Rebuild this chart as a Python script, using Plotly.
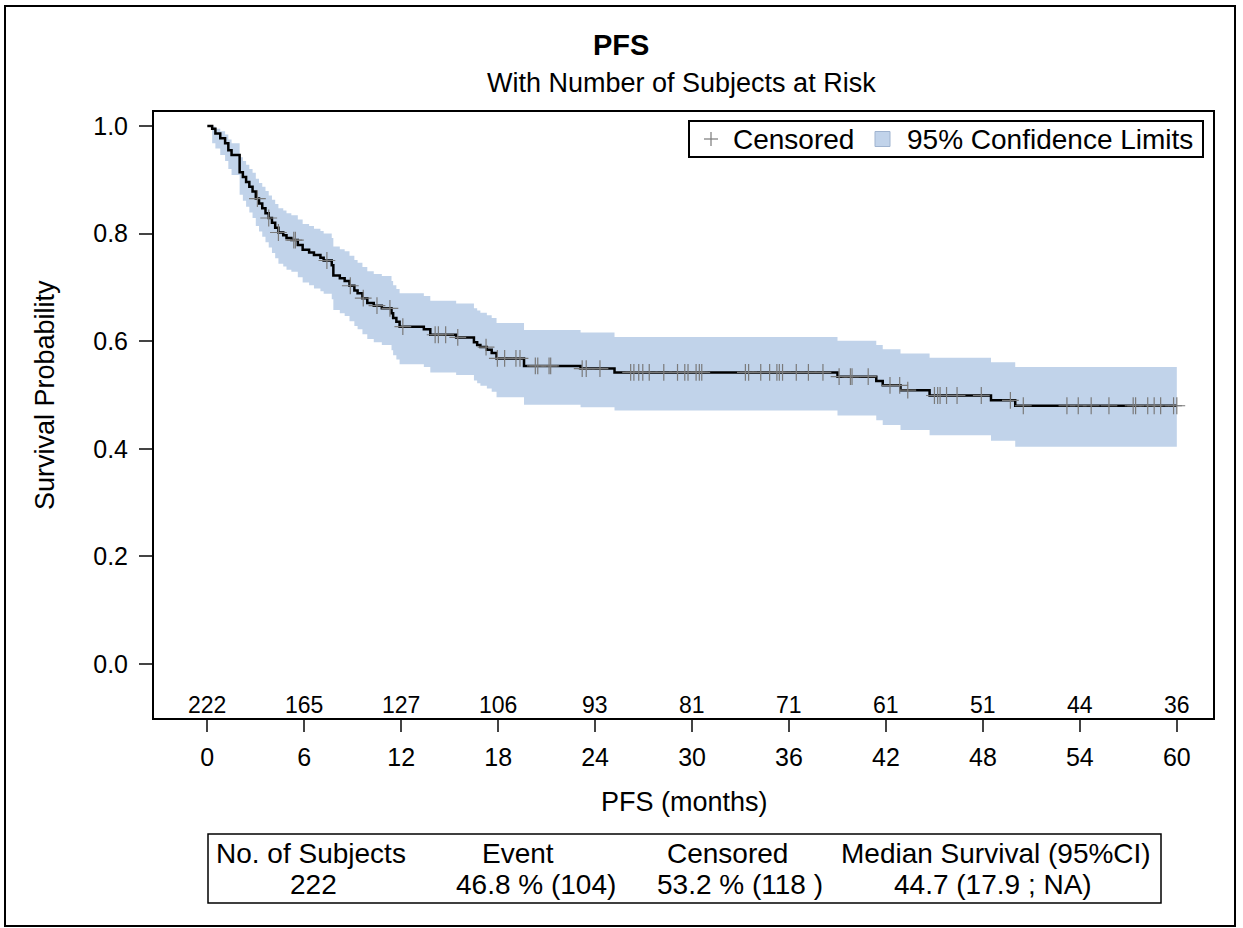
import numpy as np
import plotly.graph_objects as go

FONT = "Liberation Sans, Arial, sans-serif"

# Kaplan-Meier estimate: time of each drop (months) and survival after it
km_time = [0.0, 0.3, 0.5, 0.8, 1.1, 1.3, 1.5, 2.0, 2.2, 2.4, 2.6, 2.8, 3.0, 3.2, 3.4,
           3.6, 3.8, 4.0, 4.2, 4.4, 4.7, 4.9, 5.2, 5.6, 5.9, 6.3, 6.6, 7.0, 7.2, 7.7,
           7.8, 8.2, 8.5, 8.8, 9.1, 9.3, 9.6, 9.9, 10.3, 10.8, 11.4, 11.5, 11.7, 11.9,
           13.4, 13.8, 15.4, 16.5, 16.7, 16.9, 17.3, 17.6, 17.9, 19.6, 23.1, 25.2,
           39.0, 41.4, 41.8, 42.9, 44.7, 48.5, 50.0, 60.0]
km_surv = [1.000, 0.995, 0.986, 0.977, 0.968, 0.955, 0.946, 0.914, 0.905, 0.896, 0.887,
           0.878, 0.865, 0.856, 0.847, 0.838, 0.829, 0.820, 0.811, 0.802, 0.797, 0.792,
           0.788, 0.779, 0.770, 0.765, 0.760, 0.755, 0.750, 0.741, 0.722, 0.717, 0.712,
           0.703, 0.694, 0.689, 0.680, 0.671, 0.666, 0.661, 0.652, 0.643, 0.636, 0.627,
           0.622, 0.612, 0.607, 0.598, 0.593, 0.589, 0.584, 0.578, 0.568, 0.554, 0.549,
           0.542, 0.534, 0.526, 0.518, 0.509, 0.499, 0.490, 0.480, 0.480]
# 95% confidence limits at the same times
ci_lower = [1.000, 0.968, 0.958, 0.946, 0.935, 0.920, 0.909, 0.872, 0.861, 0.850, 0.839,
            0.829, 0.814, 0.804, 0.794, 0.784, 0.774, 0.764, 0.754, 0.744, 0.739, 0.733,
            0.729, 0.719, 0.709, 0.704, 0.698, 0.693, 0.688, 0.678, 0.658, 0.652, 0.647,
            0.637, 0.628, 0.622, 0.613, 0.604, 0.598, 0.593, 0.583, 0.574, 0.566, 0.557,
            0.552, 0.542, 0.537, 0.527, 0.522, 0.517, 0.512, 0.506, 0.496, 0.482, 0.477,
            0.471, 0.462, 0.453, 0.444, 0.435, 0.425, 0.415, 0.404, 0.404]
ci_upper = [1.000, 0.999, 0.995, 0.990, 0.984, 0.975, 0.968, 0.942, 0.935, 0.928, 0.920,
            0.913, 0.902, 0.894, 0.887, 0.879, 0.871, 0.863, 0.855, 0.847, 0.843, 0.838,
            0.834, 0.826, 0.818, 0.814, 0.809, 0.805, 0.800, 0.792, 0.776, 0.771, 0.767,
            0.759, 0.751, 0.746, 0.738, 0.730, 0.725, 0.721, 0.712, 0.704, 0.697, 0.689,
            0.684, 0.675, 0.670, 0.661, 0.657, 0.653, 0.648, 0.643, 0.634, 0.621, 0.616,
            0.608, 0.601, 0.593, 0.585, 0.577, 0.569, 0.561, 0.552, 0.552]

# Censoring times (months)
censor_time = [3.1, 3.8, 4.4, 5.35, 5.45, 7.4, 8.85, 9.65, 10.5, 11.3, 12.1, 14.1, 14.3,
               14.75, 15.5, 17.25, 17.95, 18.4, 19.1, 19.35, 20.3, 20.45, 21.15, 21.25,
               23.2, 23.45, 24.3, 26.2, 26.4, 26.7, 26.95, 27.35, 28.25, 29.1, 29.55,
               29.75, 30.25, 30.45, 30.6, 33.3, 33.5, 34.25, 34.8, 35.25, 35.4, 35.6,
               36.45, 37.2, 38.1, 39.1, 39.8, 39.9, 40.9, 42.25, 42.85, 43.35, 45.0,
               45.2, 45.35, 45.75, 46.4, 47.9, 49.7, 50.5, 53.2, 53.9, 54.7, 55.8, 57.3,
               57.45, 58.2, 58.6, 59.0, 59.8, 60.0]

# Number of subjects at risk
risk_time = [0, 6, 12, 18, 24, 30, 36, 42, 48, 54, 60]
risk_count = [222, 165, 127, 106, 93, 81, 71, 61, 51, 44, 36]

# Summary table
table_header = ["No. of Subjects", "Event", "Censored", "Median Survival (95%CI)"]
table_values = ["222", "46.8 % (104)", "53.2 % (118 )", "44.7 (17.9 ; NA)"]

BAND = "#C1D3EA"
CENSOR = "#7a7a7a"

# survival level of the step function at each censoring time
idx = np.searchsorted(np.array(km_time), np.array(censor_time), side="right") - 1
censor_surv = np.array(km_surv)[idx]

fig = go.Figure()

fig.add_trace(go.Scatter(x=km_time, y=ci_lower, mode="lines", line=dict(width=0, shape="hv"),
                         hoverinfo="skip", showlegend=False))
fig.add_trace(go.Scatter(x=km_time, y=ci_upper, mode="lines", line=dict(width=0, shape="hv"),
                         fill="tonexty", fillcolor=BAND, hoverinfo="skip", showlegend=False))
fig.add_trace(go.Scatter(x=km_time, y=km_surv, mode="lines",
                         line=dict(color="black", width=2.5, shape="hv"), showlegend=False))
fig.add_trace(go.Scatter(x=censor_time, y=censor_surv, mode="markers", name="Censored",
                         showlegend=False,
                         marker=dict(symbol="cross-thin", size=12, color=CENSOR,
                                     line=dict(width=1.2, color=CENSOR))))

L, R, T, B = 154, 1213, 112, 718
W, H = 1243, 928
pw, ph = R - L, B - T


def px(xp):
    return (xp - L) / pw


def py(yp):
    return (B - yp) / ph


annotations = [
    dict(text="<b>PFS</b>", x=px(621), y=py(45), font=dict(size=29)),
    dict(text="With Number of Subjects at Risk", x=px(681.5), y=py(83), font=dict(size=27)),
    dict(text="Survival Probability", x=px(45), y=py(395), textangle=-90, font=dict(size=27)),
    dict(text="PFS (months)", x=px(684), y=py(802), font=dict(size=27)),
    # legend entries
    dict(text="Censored", x=px(731), y=py(139), xanchor="left", font=dict(size=28)),
    dict(text="95% Confidence Limits", x=px(905), y=py(139), xanchor="left", font=dict(size=28)),
]
for t, n in zip(risk_time, risk_count):
    annotations.append(dict(text=str(n), x=t, xref="x", y=py(705), font=dict(size=23)))

head_x = [311, 518, 727, 996]
val_x = [313, 536, 740, 993]
for hx, h in zip(head_x, table_header):
    annotations.append(dict(text=h, x=px(hx), y=py(853), font=dict(size=28)))
for vx, v in zip(val_x, table_values):
    annotations.append(dict(text=v, x=px(vx), y=py(884), font=dict(size=28)))

for a in annotations:
    a.setdefault("xref", "paper")
    a.setdefault("yref", "paper")
    a.setdefault("xanchor", "center")
    a.update(showarrow=False, yanchor="middle")
    a["font"].update(family=FONT, color="black")

shapes = [
    # outer frame
    dict(type="rect", xref="paper", yref="paper", x0=px(5), x1=px(1235), y0=py(926), y1=py(6),
         line=dict(color="black", width=2)),
    # summary table frame
    dict(type="rect", xref="paper", yref="paper", x0=px(208), x1=px(1161), y0=py(903), y1=py(834),
         line=dict(color="black", width=1.5)),
    # legend frame
    dict(type="rect", xref="paper", yref="paper", x0=px(689), x1=px(1203), y0=py(157), y1=py(121),
         line=dict(color="black", width=2), fillcolor="white", layer="above"),
    # legend: censored symbol
    dict(type="line", xref="paper", yref="paper", x0=px(704), x1=px(718), y0=py(139), y1=py(139),
         line=dict(color=CENSOR, width=1.2)),
    dict(type="line", xref="paper", yref="paper", x0=px(711), x1=px(711), y0=py(132), y1=py(146),
         line=dict(color=CENSOR, width=1.2)),
    # legend: band swatch
    dict(type="rect", xref="paper", yref="paper", x0=px(875), x1=px(890), y0=py(146.5), y1=py(131.5),
         line=dict(color="#9fb3cf", width=1), fillcolor=BAND),
]

fig.update_layout(
    width=W, height=H,
    margin=dict(l=L, r=W - R, t=T, b=H - B),
    paper_bgcolor="white", plot_bgcolor="white",
    font=dict(family=FONT, color="black", size=24),
    annotations=annotations, shapes=shapes, showlegend=False,
    xaxis=dict(range=[-3.3, 62.24], tickvals=risk_time, ticks="outside", ticklen=12, tickwidth=2,
               showline=True, mirror=True, linewidth=2, linecolor="black", showgrid=False,
               zeroline=False, tickfont=dict(size=25), ticklabelstandoff=4),
    yaxis=dict(range=[-0.1004, 1.026], tickvals=[0, 0.2, 0.4, 0.6, 0.8, 1.0], tickformat=".1f",
               ticks="outside", ticklen=13, tickwidth=2, showline=True, mirror=True, linewidth=2,
               linecolor="black", showgrid=False, zeroline=False, tickfont=dict(size=25),
               ticklabelstandoff=6),
)

fig.write_html("out.html")
